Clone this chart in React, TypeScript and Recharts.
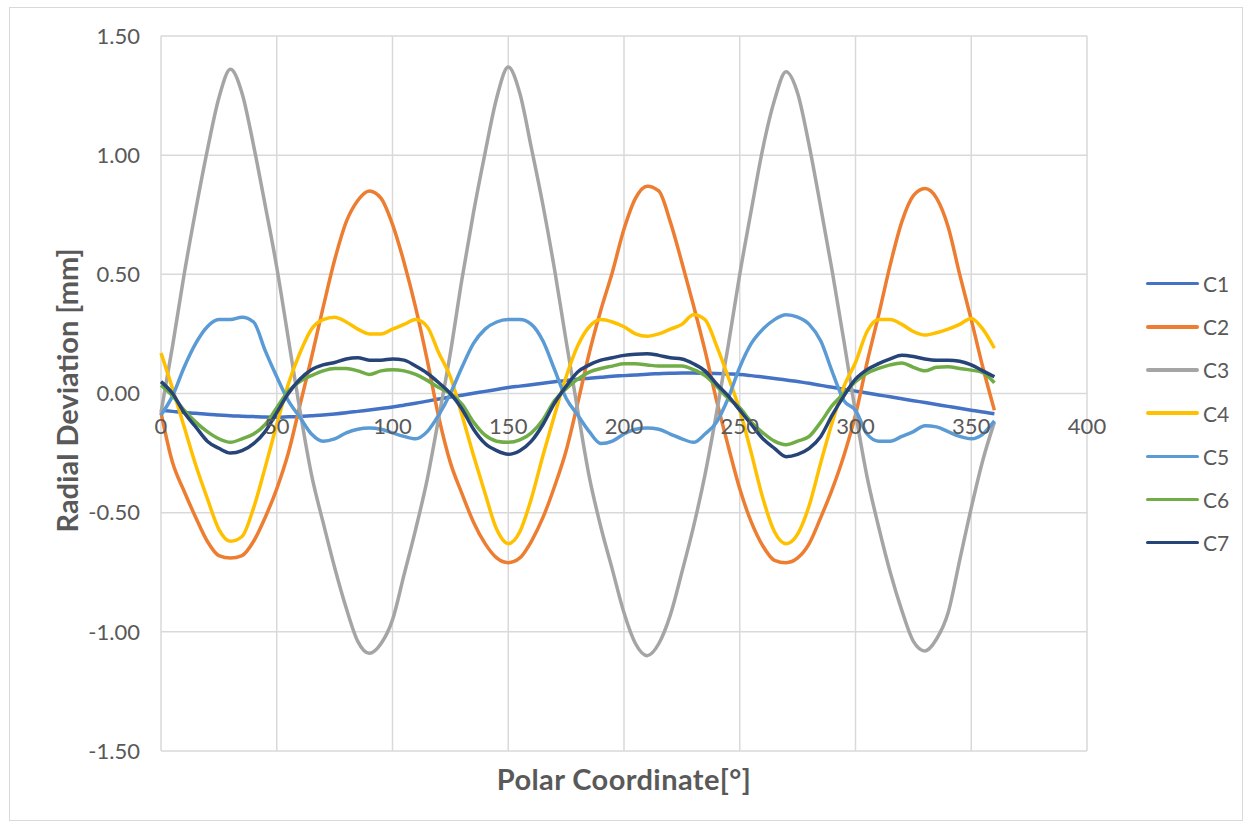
import React from 'react';
import { LineChart, Line, XAxis, YAxis, CartesianGrid } from 'recharts';

const ANGLES = [0, 5, 10, 15, 20, 25, 30, 35, 40, 45, 50, 55, 60, 65, 70, 75, 80, 85, 90, 95, 100, 105, 110, 115, 120, 125, 130, 135, 140, 145, 150, 155, 160, 165, 170, 175, 180, 185, 190, 195, 200, 205, 210, 215, 220, 225, 230, 235, 240, 245, 250, 255, 260, 265, 270, 275, 280, 285, 290, 295, 300, 305, 310, 315, 320, 325, 330, 335, 340, 345, 350, 355, 360];

const C1 = [-0.070, -0.075, -0.080, -0.083, -0.087, -0.090, -0.093, -0.095, -0.097, -0.099, -0.100, -0.098, -0.096, -0.093, -0.090, -0.086, -0.081, -0.075, -0.069, -0.063, -0.057, -0.049, -0.041, -0.032, -0.023, -0.015, -0.007, 0.001, 0.009, 0.017, 0.025, 0.031, 0.037, 0.043, 0.049, 0.055, 0.060, 0.064, 0.068, 0.072, 0.075, 0.078, 0.081, 0.083, 0.085, 0.086, 0.086, 0.085, 0.084, 0.082, 0.080, 0.075, 0.069, 0.063, 0.057, 0.050, 0.043, 0.034, 0.026, 0.018, 0.010, 0.002, -0.006, -0.014, -0.022, -0.030, -0.038, -0.046, -0.054, -0.062, -0.070, -0.078, -0.085];

const C2 = [-0.08, -0.29, -0.41, -0.52, -0.62, -0.68, -0.69, -0.68, -0.62, -0.52, -0.40, -0.25, -0.05, 0.15, 0.36, 0.56, 0.72, 0.81, 0.85, 0.82, 0.71, 0.55, 0.36, 0.14, -0.10, -0.29, -0.42, -0.54, -0.63, -0.69, -0.71, -0.69, -0.62, -0.52, -0.39, -0.24, -0.04, 0.17, 0.35, 0.51, 0.69, 0.82, 0.87, 0.85, 0.72, 0.55, 0.37, 0.18, -0.03, -0.22, -0.40, -0.54, -0.64, -0.70, -0.71, -0.69, -0.63, -0.52, -0.40, -0.26, -0.09, 0.13, 0.33, 0.54, 0.72, 0.83, 0.86, 0.82, 0.70, 0.50, 0.31, 0.11, -0.07];

const C3 = [-0.08, 0.20, 0.50, 0.77, 1.02, 1.24, 1.36, 1.26, 1.04, 0.79, 0.53, 0.23, -0.07, -0.34, -0.54, -0.73, -0.90, -1.04, -1.09, -1.05, -0.95, -0.76, -0.57, -0.36, -0.10, 0.17, 0.48, 0.76, 1.01, 1.24, 1.37, 1.26, 1.03, 0.79, 0.52, 0.22, -0.07, -0.35, -0.56, -0.74, -0.92, -1.05, -1.10, -1.05, -0.93, -0.75, -0.56, -0.34, -0.08, 0.20, 0.50, 0.77, 1.03, 1.23, 1.35, 1.26, 1.04, 0.78, 0.51, 0.22, -0.08, -0.35, -0.56, -0.75, -0.91, -1.04, -1.08, -1.03, -0.92, -0.70, -0.48, -0.28, -0.12];

const C4 = [0.17, 0.02, -0.14, -0.30, -0.44, -0.57, -0.62, -0.60, -0.48, -0.31, -0.13, 0.04, 0.17, 0.27, 0.31, 0.32, 0.30, 0.27, 0.25, 0.25, 0.27, 0.29, 0.31, 0.28, 0.17, 0.07, -0.09, -0.26, -0.42, -0.57, -0.63, -0.58, -0.44, -0.26, -0.09, 0.07, 0.20, 0.28, 0.31, 0.30, 0.28, 0.25, 0.24, 0.25, 0.27, 0.29, 0.33, 0.31, 0.20, 0.07, -0.07, -0.25, -0.44, -0.58, -0.63, -0.59, -0.47, -0.29, -0.12, 0.03, 0.13, 0.26, 0.31, 0.31, 0.29, 0.26, 0.245, 0.255, 0.27, 0.29, 0.315, 0.27, 0.19];

const C5 = [-0.09, -0.01, 0.11, 0.21, 0.28, 0.31, 0.31, 0.32, 0.30, 0.18, 0.07, -0.03, -0.10, -0.17, -0.20, -0.19, -0.165, -0.15, -0.145, -0.15, -0.165, -0.18, -0.19, -0.16, -0.09, 0.0, 0.11, 0.21, 0.27, 0.30, 0.31, 0.31, 0.29, 0.22, 0.10, -0.02, -0.09, -0.16, -0.21, -0.20, -0.17, -0.15, -0.145, -0.15, -0.17, -0.19, -0.205, -0.17, -0.12, -0.02, 0.11, 0.21, 0.27, 0.31, 0.33, 0.32, 0.29, 0.22, 0.09, -0.03, -0.07, -0.17, -0.20, -0.20, -0.18, -0.16, -0.135, -0.14, -0.16, -0.18, -0.19, -0.17, -0.115];

const C6 = [0.035, -0.01, -0.07, -0.12, -0.16, -0.19, -0.205, -0.19, -0.17, -0.13, -0.06, 0.01, 0.05, 0.075, 0.095, 0.105, 0.105, 0.095, 0.08, 0.095, 0.10, 0.095, 0.08, 0.055, 0.025, 0.0, -0.045, -0.12, -0.175, -0.20, -0.205, -0.195, -0.165, -0.11, -0.03, 0.02, 0.06, 0.09, 0.105, 0.115, 0.125, 0.125, 0.12, 0.115, 0.115, 0.115, 0.10, 0.075, 0.03, -0.02, -0.06, -0.12, -0.165, -0.20, -0.215, -0.20, -0.18, -0.12, -0.05, 0.0, 0.05, 0.085, 0.105, 0.12, 0.128, 0.11, 0.095, 0.11, 0.112, 0.105, 0.098, 0.088, 0.045];

const C7 = [0.05, 0.0, -0.08, -0.14, -0.20, -0.23, -0.25, -0.24, -0.21, -0.16, -0.08, 0.0, 0.06, 0.10, 0.12, 0.13, 0.145, 0.15, 0.14, 0.14, 0.145, 0.14, 0.115, 0.085, 0.045, 0.0, -0.065, -0.15, -0.21, -0.24, -0.255, -0.24, -0.20, -0.13, -0.04, 0.03, 0.09, 0.12, 0.14, 0.15, 0.16, 0.165, 0.167, 0.16, 0.15, 0.145, 0.125, 0.095, 0.04, -0.01, -0.07, -0.13, -0.19, -0.23, -0.265, -0.255, -0.23, -0.18, -0.09, -0.01, 0.06, 0.10, 0.125, 0.145, 0.16, 0.155, 0.145, 0.14, 0.14, 0.135, 0.12, 0.095, 0.07];

const SERIES_NAMES = ['C1', 'C2', 'C3', 'C4', 'C5', 'C6', 'C7'];
const SERIES_VALUES = [C1, C2, C3, C4, C5, C6, C7];
const SERIES_COLORS = ['#4472C4', '#ED7D31', '#A5A5A5', '#FFC000', '#5B9BD5', '#70AD47', '#264478'];

const X_TICKS = [0, 50, 100, 150, 200, 250, 300, 350, 400];
const Y_TICKS = [-1.5, -1, -0.5, 0, 0.5, 1, 1.5];

const X_TITLE = 'Polar Coordinate[°]';
const Y_TITLE = 'Radial Deviation [mm]';

const data = ANGLES.map((a, i) => {
  const row: Record<string, number> = { angle: a };
  SERIES_NAMES.forEach((n, k) => {
    row[n] = SERIES_VALUES[k][i];
  });
  return row;
});

const FONT = 'Lato, "Open Sans", "DejaVu Sans", sans-serif';
const TEXT = '#595959';
const GRID = '#d9d9d9';

function XTick(props: any) {
  const { x, y, payload } = props;
  return (
    <text x={x} y={y - 334} textAnchor="middle" dominantBaseline="central" fontSize={22} fontFamily={FONT} fill={TEXT}>
      {payload.value}
    </text>
  );
}

function YTitle(props: any) {
  const vb = props.viewBox || {};
  const cx = vb.x + 36;
  const cy = vb.y + vb.height / 2 - 3;
  return (
    <text x={cx} y={cy} transform={`rotate(-90, ${cx}, ${cy})`} textAnchor="middle" dominantBaseline="central" fontSize={29} fontWeight="bold" fontFamily={FONT} fill={TEXT}>
      {Y_TITLE}
    </text>
  );
}

function XTitle(props: any) {
  const vb = props.viewBox || {};
  const cx = vb.x + vb.width / 2;
  const cy = vb.y + 27;
  return (
    <text x={cx} y={cy} textAnchor="middle" dominantBaseline="central" fontSize={29} letterSpacing={0.4} fontWeight="bold" fontFamily={FONT} fill={TEXT}>
      {X_TITLE}
    </text>
  );
}

export default function App() {
  return (
    <div style={{ position: 'absolute', left: 9, top: 7, width: 1232, height: 812, border: `1px solid ${GRID}`, background: '#fff' }}>
      <LineChart width={1232} height={812} data={data} margin={{ top: 28, right: 155, bottom: 9, left: 20 }}>
        <CartesianGrid stroke={GRID} strokeWidth={1.5} />
        <XAxis
          dataKey="angle"
          type="number"
          domain={[0, 400]}
          ticks={X_TICKS}
          axisLine={false}
          tickLine={false}
          height={60}
          tick={<XTick />}
          label={{ content: XTitle }}
          interval={0}
        />
        <YAxis
          type="number"
          domain={[-1.5, 1.5]}
          ticks={Y_TICKS}
          axisLine={false}
          tickLine={false}
          width={131}
          tickMargin={15}
          tickFormatter={(v: number) => v.toFixed(2)}
          tick={{ fontSize: 22, fill: TEXT, fontFamily: FONT }}
          label={{ content: YTitle }}
          interval={0}
        />
        {SERIES_NAMES.map((n, k) => (
          <Line
            key={n}
            dataKey={n}
            name={n}
            type="monotone"
            stroke={SERIES_COLORS[k]}
            strokeWidth={3.5}
            dot={false}
            activeDot={false}
            isAnimationActive={false}
          />
        ))}
      </LineChart>
      <div style={{ position: 'absolute', left: 1136, top: 254, fontFamily: FONT, fontSize: 21, color: TEXT }}>
        {SERIES_NAMES.map((n, k) => (
          <div key={n} style={{ display: 'flex', alignItems: 'center', height: 43.2 }}>
            <div style={{ width: 53, height: 3.5, background: SERIES_COLORS[k], borderRadius: 2 }} />
            <span style={{ marginLeft: 4 }}>{n}</span>
          </div>
        ))}
      </div>
    </div>
  );
}
